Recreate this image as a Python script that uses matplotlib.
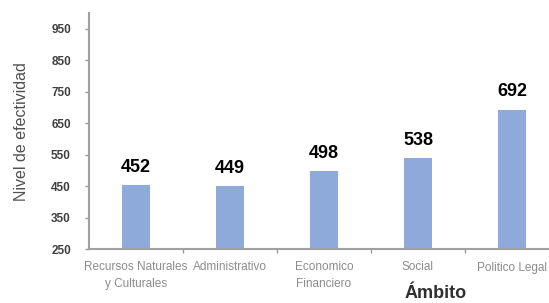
import matplotlib
matplotlib.use("Agg")
import matplotlib.pyplot as plt
import numpy as np

categories = ["Recursos Naturales\ny Culturales", "Administrativo",
              "Economico\nFinanciero", "Social", "Politico Legal"]
values = [452, 449, 498, 538, 692]
yticks = [250, 350, 450, 550, 650, 750, 850, 950]

plt.rcParams["font.family"] = ["Liberation Sans", "DejaVu Sans"]

fig = plt.figure(figsize=(5.49, 3.03), dpi=100)
# axes runs slightly past the right edge of the image, like the original crop
ax = fig.add_axes([89 / 549, 54 / 303, 470 / 549, 236 / 303])

x = np.arange(len(categories))
ax.bar(x, values, width=0.3, color="#8eaadb", zorder=2)
for xi, v in zip(x, values):
    ax.text(xi, v + 30, str(v), ha="center", va="bottom",
            fontsize=13, fontweight="bold", color="black")

ax.set_xlim(-0.5, 4.5)
ax.set_ylim(250, 1000)
ax.set_yticks(yticks)
ax.set_yticklabels([str(t) for t in yticks], fontsize=8.5,
                   fontweight="bold", color="#404040")
ax.set_xticks(x)
ax.set_xticklabels(categories, fontsize=8.5, color="#8c8c8c",
                   linespacing=1.5)
ax.tick_params(axis="x", length=0, pad=9)
ax.set_xticks(np.arange(0.5, 4.5, 1), minor=True)
ax.tick_params(axis="x", which="minor", length=3, color="#999999", width=1)
ax.tick_params(axis="y", length=3, color="#999999", width=1, pad=10)

for s in ["top", "right"]:
    ax.spines[s].set_visible(False)
for s in ["left", "bottom"]:
    ax.spines[s].set_color("#a0a0a0")
    ax.spines[s].set_linewidth(1.5)

fig.text(22 / 549, 1 - 132 / 303, "Nivel de efectividad", rotation=90,
         ha="center", va="center", fontsize=11.5, color="#505050")
fig.text(436 / 549, 1 - 293 / 303, "Ámbito", ha="center", va="center",
         fontsize=13, fontweight="bold", color="#303030")

fig.savefig("out.png", dpi=100)
